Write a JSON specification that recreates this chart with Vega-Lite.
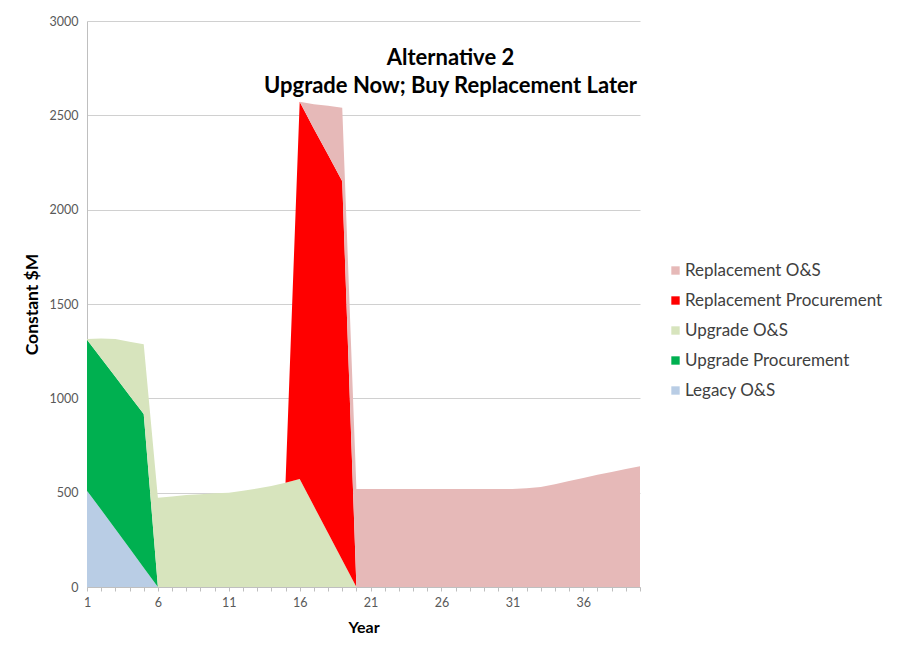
{
  "$schema": "https://vega.github.io/schema/vega-lite/v6.json",
  "width": 553,
  "height": 566,
  "autosize": {"type": "none"},
  "padding": {"left": 87, "top": 21, "right": 264, "bottom": 65},
  "background": "white",
  "config": {
    "font": "Lato",
    "view": {"stroke": null},
    "axis": {"labelFont": "Lato", "titleFont": "Lato"}
  },
  "title": {
    "text": ["Alternative 2", "Upgrade Now; Buy Replacement Later"],
    "fontSize": 22,
    "fontWeight": "bold",
    "color": "#000000",
    "anchor": "middle",
    "frame": "group",
    "orient": "top",
    "baseline": "top",
    "lineHeight": 28,
    "offset": 0,
    "dx": 87,
    "dy": 83
  },
  "data": {
    "values": [
      {"year":1,"series":"Legacy O&S","value":510},{"year":2,"series":"Legacy O&S","value":410},{"year":3,"series":"Legacy O&S","value":308},{"year":4,"series":"Legacy O&S","value":205},{"year":5,"series":"Legacy O&S","value":102},{"year":6,"series":"Legacy O&S","value":0},{"year":7,"series":"Legacy O&S","value":0},{"year":8,"series":"Legacy O&S","value":0},{"year":9,"series":"Legacy O&S","value":0},{"year":10,"series":"Legacy O&S","value":0},{"year":11,"series":"Legacy O&S","value":0},{"year":12,"series":"Legacy O&S","value":0},{"year":13,"series":"Legacy O&S","value":0},{"year":14,"series":"Legacy O&S","value":0},{"year":15,"series":"Legacy O&S","value":0},{"year":16,"series":"Legacy O&S","value":0},{"year":17,"series":"Legacy O&S","value":0},{"year":18,"series":"Legacy O&S","value":0},{"year":19,"series":"Legacy O&S","value":0},{"year":20,"series":"Legacy O&S","value":0},{"year":21,"series":"Legacy O&S","value":0},{"year":22,"series":"Legacy O&S","value":0},{"year":23,"series":"Legacy O&S","value":0},{"year":24,"series":"Legacy O&S","value":0},{"year":25,"series":"Legacy O&S","value":0},{"year":26,"series":"Legacy O&S","value":0},{"year":27,"series":"Legacy O&S","value":0},{"year":28,"series":"Legacy O&S","value":0},{"year":29,"series":"Legacy O&S","value":0},{"year":30,"series":"Legacy O&S","value":0},{"year":31,"series":"Legacy O&S","value":0},{"year":32,"series":"Legacy O&S","value":0},{"year":33,"series":"Legacy O&S","value":0},{"year":34,"series":"Legacy O&S","value":0},{"year":35,"series":"Legacy O&S","value":0},{"year":36,"series":"Legacy O&S","value":0},{"year":37,"series":"Legacy O&S","value":0},{"year":38,"series":"Legacy O&S","value":0},{"year":39,"series":"Legacy O&S","value":0},{"year":40,"series":"Legacy O&S","value":0},

      {"year":1,"series":"Upgrade Procurement","value":800},{"year":2,"series":"Upgrade Procurement","value":802},{"year":3,"series":"Upgrade Procurement","value":806},{"year":4,"series":"Upgrade Procurement","value":810},{"year":5,"series":"Upgrade Procurement","value":815},{"year":6,"series":"Upgrade Procurement","value":0},{"year":7,"series":"Upgrade Procurement","value":0},{"year":8,"series":"Upgrade Procurement","value":0},{"year":9,"series":"Upgrade Procurement","value":0},{"year":10,"series":"Upgrade Procurement","value":0},{"year":11,"series":"Upgrade Procurement","value":0},{"year":12,"series":"Upgrade Procurement","value":0},{"year":13,"series":"Upgrade Procurement","value":0},{"year":14,"series":"Upgrade Procurement","value":0},{"year":15,"series":"Upgrade Procurement","value":0},{"year":16,"series":"Upgrade Procurement","value":0},{"year":17,"series":"Upgrade Procurement","value":0},{"year":18,"series":"Upgrade Procurement","value":0},{"year":19,"series":"Upgrade Procurement","value":0},{"year":20,"series":"Upgrade Procurement","value":0},{"year":21,"series":"Upgrade Procurement","value":0},{"year":22,"series":"Upgrade Procurement","value":0},{"year":23,"series":"Upgrade Procurement","value":0},{"year":24,"series":"Upgrade Procurement","value":0},{"year":25,"series":"Upgrade Procurement","value":0},{"year":26,"series":"Upgrade Procurement","value":0},{"year":27,"series":"Upgrade Procurement","value":0},{"year":28,"series":"Upgrade Procurement","value":0},{"year":29,"series":"Upgrade Procurement","value":0},{"year":30,"series":"Upgrade Procurement","value":0},{"year":31,"series":"Upgrade Procurement","value":0},{"year":32,"series":"Upgrade Procurement","value":0},{"year":33,"series":"Upgrade Procurement","value":0},{"year":34,"series":"Upgrade Procurement","value":0},{"year":35,"series":"Upgrade Procurement","value":0},{"year":36,"series":"Upgrade Procurement","value":0},{"year":37,"series":"Upgrade Procurement","value":0},{"year":38,"series":"Upgrade Procurement","value":0},{"year":39,"series":"Upgrade Procurement","value":0},{"year":40,"series":"Upgrade Procurement","value":0},

      {"year":1,"series":"Upgrade O&S","value":5},{"year":2,"series":"Upgrade O&S","value":105},{"year":3,"series":"Upgrade O&S","value":200},{"year":4,"series":"Upgrade O&S","value":285},{"year":5,"series":"Upgrade O&S","value":370},{"year":6,"series":"Upgrade O&S","value":473},{"year":7,"series":"Upgrade O&S","value":480},{"year":8,"series":"Upgrade O&S","value":487},{"year":9,"series":"Upgrade O&S","value":492},{"year":10,"series":"Upgrade O&S","value":497},{"year":11,"series":"Upgrade O&S","value":500},{"year":12,"series":"Upgrade O&S","value":510},{"year":13,"series":"Upgrade O&S","value":522},{"year":14,"series":"Upgrade O&S","value":536},{"year":15,"series":"Upgrade O&S","value":553},{"year":16,"series":"Upgrade O&S","value":572},{"year":17,"series":"Upgrade O&S","value":429},{"year":18,"series":"Upgrade O&S","value":286},{"year":19,"series":"Upgrade O&S","value":143},{"year":20,"series":"Upgrade O&S","value":0},{"year":21,"series":"Upgrade O&S","value":0},{"year":22,"series":"Upgrade O&S","value":0},{"year":23,"series":"Upgrade O&S","value":0},{"year":24,"series":"Upgrade O&S","value":0},{"year":25,"series":"Upgrade O&S","value":0},{"year":26,"series":"Upgrade O&S","value":0},{"year":27,"series":"Upgrade O&S","value":0},{"year":28,"series":"Upgrade O&S","value":0},{"year":29,"series":"Upgrade O&S","value":0},{"year":30,"series":"Upgrade O&S","value":0},{"year":31,"series":"Upgrade O&S","value":0},{"year":32,"series":"Upgrade O&S","value":0},{"year":33,"series":"Upgrade O&S","value":0},{"year":34,"series":"Upgrade O&S","value":0},{"year":35,"series":"Upgrade O&S","value":0},{"year":36,"series":"Upgrade O&S","value":0},{"year":37,"series":"Upgrade O&S","value":0},{"year":38,"series":"Upgrade O&S","value":0},{"year":39,"series":"Upgrade O&S","value":0},{"year":40,"series":"Upgrade O&S","value":0},

      {"year":1,"series":"Replacement Procurement","value":0},{"year":2,"series":"Replacement Procurement","value":0},{"year":3,"series":"Replacement Procurement","value":0},{"year":4,"series":"Replacement Procurement","value":0},{"year":5,"series":"Replacement Procurement","value":0},{"year":6,"series":"Replacement Procurement","value":0},{"year":7,"series":"Replacement Procurement","value":0},{"year":8,"series":"Replacement Procurement","value":0},{"year":9,"series":"Replacement Procurement","value":0},{"year":10,"series":"Replacement Procurement","value":0},{"year":11,"series":"Replacement Procurement","value":0},{"year":12,"series":"Replacement Procurement","value":0},{"year":13,"series":"Replacement Procurement","value":0},{"year":14,"series":"Replacement Procurement","value":0},{"year":15,"series":"Replacement Procurement","value":0},{"year":16,"series":"Replacement Procurement","value":2000},{"year":17,"series":"Replacement Procurement","value":2000},{"year":18,"series":"Replacement Procurement","value":2005},{"year":19,"series":"Replacement Procurement","value":2007},{"year":20,"series":"Replacement Procurement","value":0},{"year":21,"series":"Replacement Procurement","value":0},{"year":22,"series":"Replacement Procurement","value":0},{"year":23,"series":"Replacement Procurement","value":0},{"year":24,"series":"Replacement Procurement","value":0},{"year":25,"series":"Replacement Procurement","value":0},{"year":26,"series":"Replacement Procurement","value":0},{"year":27,"series":"Replacement Procurement","value":0},{"year":28,"series":"Replacement Procurement","value":0},{"year":29,"series":"Replacement Procurement","value":0},{"year":30,"series":"Replacement Procurement","value":0},{"year":31,"series":"Replacement Procurement","value":0},{"year":32,"series":"Replacement Procurement","value":0},{"year":33,"series":"Replacement Procurement","value":0},{"year":34,"series":"Replacement Procurement","value":0},{"year":35,"series":"Replacement Procurement","value":0},{"year":36,"series":"Replacement Procurement","value":0},{"year":37,"series":"Replacement Procurement","value":0},{"year":38,"series":"Replacement Procurement","value":0},{"year":39,"series":"Replacement Procurement","value":0},{"year":40,"series":"Replacement Procurement","value":0},

      {"year":1,"series":"Replacement O&S","value":0},{"year":2,"series":"Replacement O&S","value":0},{"year":3,"series":"Replacement O&S","value":0},{"year":4,"series":"Replacement O&S","value":0},{"year":5,"series":"Replacement O&S","value":0},{"year":6,"series":"Replacement O&S","value":0},{"year":7,"series":"Replacement O&S","value":0},{"year":8,"series":"Replacement O&S","value":0},{"year":9,"series":"Replacement O&S","value":0},{"year":10,"series":"Replacement O&S","value":0},{"year":11,"series":"Replacement O&S","value":0},{"year":12,"series":"Replacement O&S","value":0},{"year":13,"series":"Replacement O&S","value":0},{"year":14,"series":"Replacement O&S","value":0},{"year":15,"series":"Replacement O&S","value":0},{"year":16,"series":"Replacement O&S","value":0},{"year":17,"series":"Replacement O&S","value":130},{"year":18,"series":"Replacement O&S","value":260},{"year":19,"series":"Replacement O&S","value":390},{"year":20,"series":"Replacement O&S","value":520},{"year":21,"series":"Replacement O&S","value":520},{"year":22,"series":"Replacement O&S","value":520},{"year":23,"series":"Replacement O&S","value":520},{"year":24,"series":"Replacement O&S","value":520},{"year":25,"series":"Replacement O&S","value":520},{"year":26,"series":"Replacement O&S","value":520},{"year":27,"series":"Replacement O&S","value":520},{"year":28,"series":"Replacement O&S","value":520},{"year":29,"series":"Replacement O&S","value":520},{"year":30,"series":"Replacement O&S","value":520},{"year":31,"series":"Replacement O&S","value":520},{"year":32,"series":"Replacement O&S","value":523},{"year":33,"series":"Replacement O&S","value":530},{"year":34,"series":"Replacement O&S","value":545},{"year":35,"series":"Replacement O&S","value":562},{"year":36,"series":"Replacement O&S","value":578},{"year":37,"series":"Replacement O&S","value":595},{"year":38,"series":"Replacement O&S","value":610},{"year":39,"series":"Replacement O&S","value":625},{"year":40,"series":"Replacement O&S","value":640}
    ]
  },
  "transform": [
    {"calculate": "indexof(['Legacy O&S','Upgrade Procurement','Upgrade O&S','Replacement Procurement','Replacement O&S'], datum.series)", "as": "stackRank"}
  ],
  "mark": {"type": "area", "interpolate": "linear", "opacity": 1},
  "encoding": {
    "x": {
      "field": "year",
      "type": "quantitative",
      "scale": {"domain": [1, 40], "nice": false, "zero": false},
      "axis": {
        "title": "Year",
        "titleFontSize": 16,
        "titleFontWeight": "bold",
        "titleColor": "#000000",
        "titlePadding": 11,
        "values": [1,2,3,4,5,6,7,8,9,10,11,12,13,14,15,16,17,18,19,20,21,22,23,24,25,26,27,28,29,30,31,32,33,34,35,36,37,38,39,40],
        "labelExpr": "(datum.value - 1) % 5 == 0 ? datum.label : ''",
        "labelFontSize": 12.5,
        "labelColor": "#595959",
        "labelPadding": 5,
        "labelFlush": false,
        "labelOverlap": false,
        "tickSize": 4,
        "tickColor": "#BFBFBF",
        "domainColor": "#BFBFBF",
        "grid": false
      }
    },
    "y": {
      "field": "value",
      "type": "quantitative",
      "stack": "zero",
      "scale": {"domain": [0, 3000], "nice": false},
      "axis": {
        "title": "Constant $M",
        "titleFontSize": 17.5,
        "titleFontWeight": "bold",
        "titleColor": "#000000",
        "titlePadding": 8,
        "values": [0, 500, 1000, 1500, 2000, 2500, 3000],
        "format": "d",
        "labelFontSize": 12.5,
        "labelColor": "#595959",
        "labelPadding": 9,
        "ticks": false,
        "domainColor": "#BFBFBF",
        "grid": true,
        "gridColor": "#D0D0D0",
        "gridWidth": 1
      }
    },
    "color": {
      "field": "series",
      "type": "nominal",
      "scale": {
        "domain": ["Replacement O&S", "Replacement Procurement", "Upgrade O&S", "Upgrade Procurement", "Legacy O&S"],
        "range": ["#E6B9B8", "#FF0000", "#D7E4BD", "#00B050", "#B9CDE5"]
      },
      "legend": {
        "title": null,
        "orient": "none",
        "legendX": 580,
        "legendY": 241,
        "symbolType": "square",
        "symbolSize": 70,
        "symbolStrokeWidth": 0,
        "labelFontSize": 17,
        "labelColor": "#404040",
        "labelFont": "Lato",
        "rowPadding": 12,
        "labelOffset": 1,
        "labelLimit": 300
      }
    },
    "order": {"field": "stackRank", "type": "quantitative", "sort": "ascending"}
  }
}
